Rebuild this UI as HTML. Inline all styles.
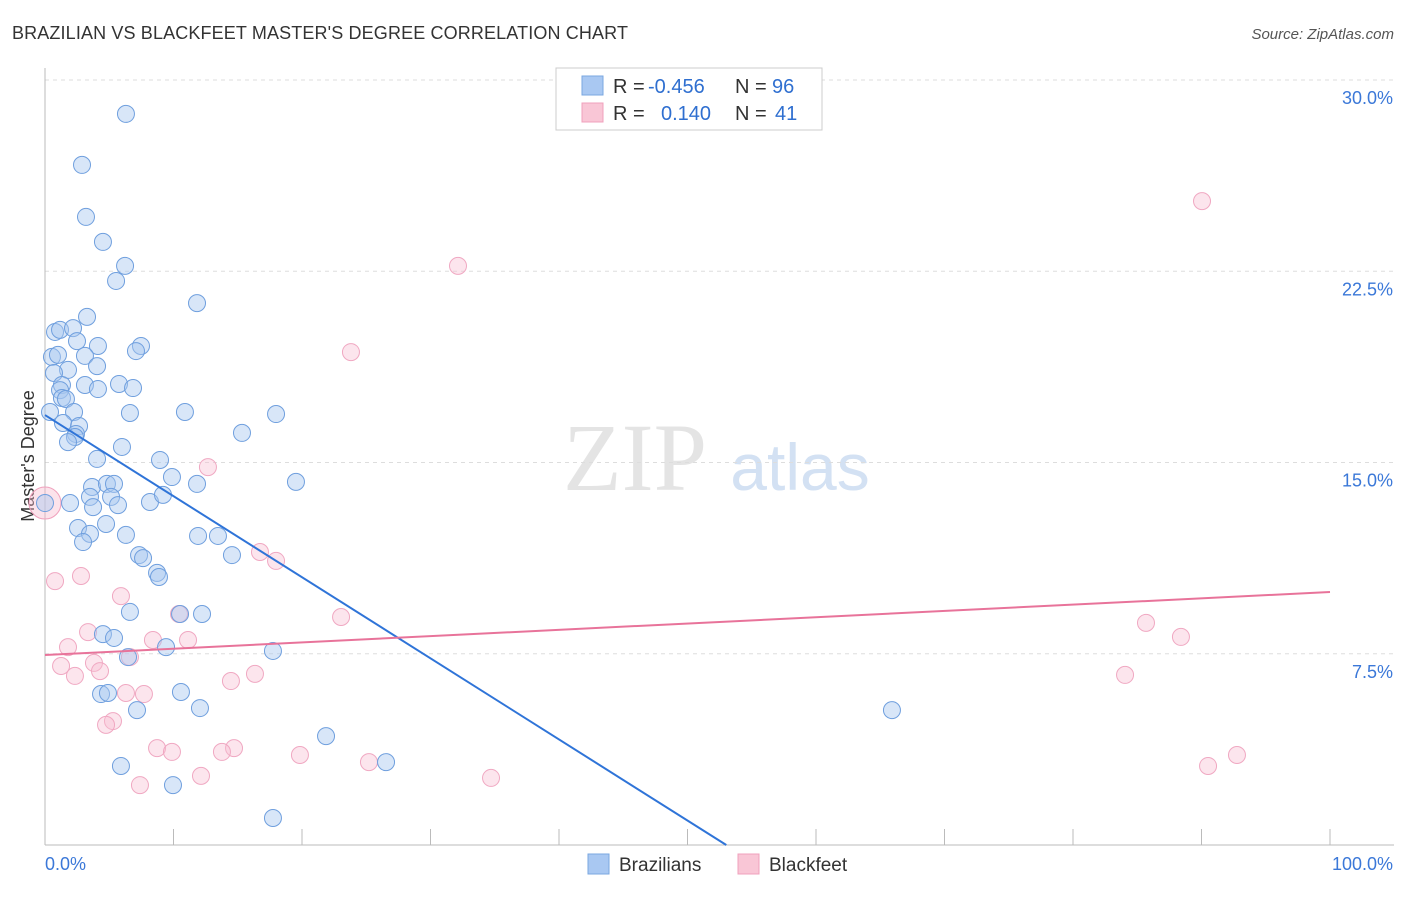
<!DOCTYPE html>
<html><head><meta charset="utf-8"><style>
body{margin:0;background:#fff;font-family:"Liberation Sans",sans-serif}
</style></head><body>
<svg id="c" width="1406" height="892" xmlns="http://www.w3.org/2000/svg">
<text x="12" y="39" font-size="18" fill="#333" textLength="616">BRAZILIAN VS BLACKFEET MASTER'S DEGREE CORRELATION CHART</text>
<text x="1394" y="39" font-size="15" fill="#555" font-style="italic" text-anchor="end">Source: ZipAtlas.com</text>
<text x="635" y="490" font-size="96" fill="#e4e4e4" font-family="Liberation Serif,serif" text-anchor="middle">ZIP</text>
<text x="800" y="490" font-size="66" fill="#d3e1f3" text-anchor="middle">atlas</text>
<text transform="translate(34,456) rotate(-90)" font-size="18" fill="#333" text-anchor="middle">Master's Degree</text>
<g id="grid"></g><g id="pts"></g><g id="lines"></g>
<g font-size="20">
<rect x="556" y="68" width="266" height="62" fill="#fff" stroke="#ccc"/>
<rect x="582" y="76" width="21" height="19" fill="#a9c8f2" stroke="#7aa7e0"/>
<rect x="582" y="103" width="21" height="19" fill="#f9c6d6" stroke="#f0a0bc"/>
<text x="613" y="93" fill="#333">R =</text><text x="648" y="93" fill="#2f6fd0">-0.456</text>
<text x="735" y="93" fill="#333">N =</text><text x="772" y="93" fill="#2f6fd0">96</text>
<text x="613" y="120" fill="#333">R =</text><text x="661" y="120" fill="#2f6fd0">0.140</text>
<text x="735" y="120" fill="#333">N =</text><text x="775" y="120" fill="#2f6fd0">41</text>
</g>
<g>
<rect x="588" y="854" width="21" height="20" fill="#a9c8f2" stroke="#7aa7e0"/>
<text x="619" y="871" font-size="19" fill="#333">Brazilians</text>
<rect x="738" y="854" width="21" height="20" fill="#f9c6d6" stroke="#f0a0bc"/>
<text x="769" y="871" font-size="19" fill="#333">Blackfeet</text>
</g>
</svg>
<script>
const yTicks=[7.5,15,22.5,30];
const xTickLabels=["0.0%","100.0%"];
const blueX=[6.3,2.88,3.19,4.51,6.23,5.53,11.83,3.27,0.78,1.17,2.18,2.49,4.12,7.47,7.08,0.54,1.01,3.11,4.05,1.79,0.7,1.32,3.11,4.12,5.76,6.85,1.17,1.32,1.63,6.61,10.89,17.98,0.39,2.26,1.4,2.65,2.41,2.33,1.79,15.33,5.99,4.05,8.95,9.88,11.83,19.53,3.66,4.82,5.37,3.5,5.14,1.95,3.74,5.68,8.17,9.18,0,4.75,2.57,3.5,6.3,2.96,11.91,13.46,7.32,7.63,14.55,8.72,8.87,6.61,10.51,12.22,4.51,5.37,9.42,17.74,6.46,4.36,4.9,10.58,7.16,12.06,65.91,21.87,5.91,26.54,9.96,17.74];
const blueY=[28.67,26.67,24.63,23.65,22.71,22.12,21.25,20.71,20.12,20.2,20.27,19.76,19.57,19.57,19.37,19.14,19.22,19.18,18.78,18.63,18.51,18.04,18.04,17.88,18.08,17.92,17.84,17.53,17.49,16.94,16.98,16.9,16.98,16.98,16.55,16.43,16.12,16,15.8,16.16,15.61,15.14,15.1,14.43,14.16,14.24,14.04,14.16,14.16,13.65,13.65,13.41,13.25,13.33,13.45,13.73,13.41,12.59,12.43,12.2,12.16,11.88,12.12,12.12,11.37,11.25,11.37,10.67,10.51,9.14,9.06,9.06,8.27,8.12,7.76,7.61,7.37,5.92,5.96,6.0,5.29,5.37,5.29,4.27,3.1,3.25,2.35,1.06];
const pinkX=[90.04,32.14,23.81,12.68,16.73,17.98,0.78,2.8,5.91,10.43,23.04,3.35,8.4,11.13,85.68,88.4,1.79,3.81,1.25,4.28,2.33,6.61,16.34,14.47,6.3,7.7,5.29,4.75,8.72,9.88,14.71,13.77,19.84,25.21,84.05,92.76,90.51,34.71,12.14,7.39];
const pinkY=[25.25,22.71,19.33,14.82,11.49,11.14,10.35,10.55,9.76,9.06,8.94,8.35,8.04,8.04,8.71,8.16,7.76,7.14,7.02,6.82,6.63,7.37,6.71,6.43,5.96,5.92,4.86,4.71,3.8,3.65,3.8,3.65,3.53,3.25,6.67,3.53,3.1,2.63,2.71,2.35];
const blueFit=[16.86,-0.318];
const pinkFit=[7.45,0.0247];
const NS="http://www.w3.org/2000/svg";
const X=v=>45+v*12.85, Y=v=>845-v*25.5;
function mk(t,a,p){const e=document.createElementNS(NS,t);for(const k in a)e.setAttribute(k,a[k]);p.appendChild(e);return e;}
const g=document.getElementById('grid');
yTicks.forEach(t=>{
 const l=mk('line',{x1:45,x2:1394,y1:Y(t),y2:Y(t),stroke:'#ddd','stroke-dasharray':'4,4'},g);
 
 
 const tx=mk('text',{x:1393,y:Y(t)+24,'font-size':18,fill:'#3b78d8','text-anchor':'end'},g);
 tx.textContent=t.toFixed(1)+'%';
 
 
});
const ax=mk('line',{x1:45,x2:1394,y1:845,y2:845,stroke:'#bbb'},g);


const ay=mk('line',{x1:45,x2:45,y1:68,y2:845,stroke:'#bbb'},g);


for(let i=0;i<=10;i++){const t=mk('line',{x1:X(i*10),x2:X(i*10),y1:829,y2:845,stroke:'#bbb'},g);
 
 }
xTickLabels.forEach((s,i)=>{const t=mk('text',{x:i?1393:45,y:870,'font-size':18,fill:'#3b78d8','text-anchor':i?'end':'start'},g);t.textContent=s;
 
 });
const p=document.getElementById('pts');
const big=mk('circle',{cx:X(0),cy:Y(13.41),r:16,fill:'rgba(248,184,204,0.4)',stroke:'#f0a0bc'},p);


pinkX.forEach((x,i)=>{const c=mk('circle',{cx:X(x),cy:Y(pinkY[i]),r:8.5,fill:'rgba(248,190,210,0.4)',stroke:'#f0a8c2'},p);
 
 });
blueX.forEach((x,i)=>{const c=mk('circle',{cx:X(x),cy:Y(blueY[i]),r:8.5,fill:'rgba(168,200,240,0.45)',stroke:'#6f9fde'},p);
 
 });
const L=document.getElementById('lines');
const bxEnd=-blueFit[0]/blueFit[1];
const bl=mk('line',{x1:X(0),y1:Y(blueFit[0]),x2:X(bxEnd),y2:Y(0),stroke:'#2f74d8','stroke-width':2},L);


const pl=mk('line',{x1:X(0),y1:Y(pinkFit[0]),x2:X(100),y2:Y(pinkFit[0]+100*pinkFit[1]),stroke:'#e8739a','stroke-width':2},L);


</script>
</body></html>
